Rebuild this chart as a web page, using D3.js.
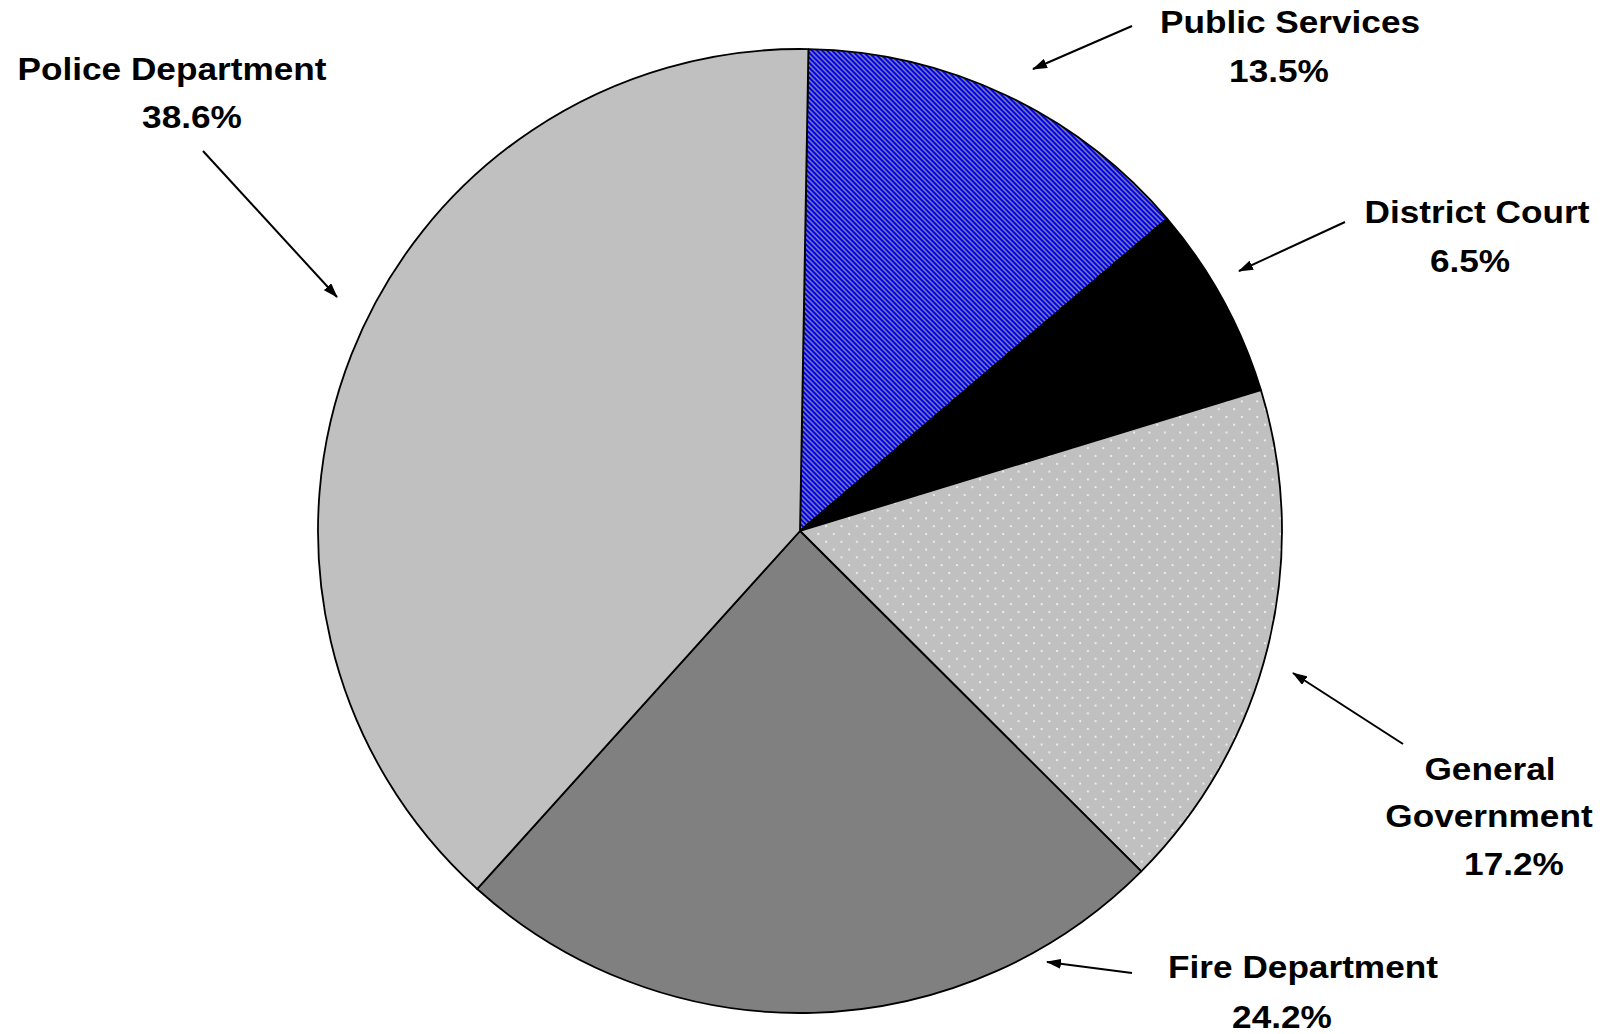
<!DOCTYPE html>
<html>
<head>
<meta charset="utf-8">
<script src="https://cdn.jsdelivr.net/npm/d3@7"></script>
<style>
  html, body { margin: 0; padding: 0; background: #fff; }
  svg { display: block; }
  text { font-family: "Liberation Sans", Arial, sans-serif; font-weight: bold; fill: #000; }
</style>
</head>
<body>
<svg id="chart" width="1610" height="1034"></svg>
<script>
// slices, clockwise from the top
const categories = ["Public Services", "District Court", "General Government", "Fire Department", "Police Department"];
const shares = [13.5, 6.5, 17.2, 24.2, 38.6];
const labelLines = [
    ["Public Services", "13.5%"],
    ["District Court", "6.5%"],
    ["General", "Government", "17.2%"],
    ["Fire Department", "24.2%"],
    ["Police Department", "38.6%"]
];

// where the callouts sit (x centre / baseline of each line, arrow tail and head)
const labelLayout = [
    {lines: [[1290, 33], [1279, 82]], from: [1132, 26], to: [1033, 69]},
    {lines: [[1477, 223], [1470, 272]], from: [1345, 222], to: [1239, 271]},
    {lines: [[1490, 780], [1489, 827], [1514, 875]], from: [1403, 744], to: [1293, 673]},
    {lines: [[1303, 978], [1282, 1028]], from: [1132, 973], to: [1047, 962]},
    {lines: [[172, 80], [192, 128]], from: [203, 151], to: [337, 297]}
];

const cx = 800, cy = 531, r = 482;
const rot = 1 * Math.PI / 180;

let svg = d3.select("#chart");
let defs = svg.append("defs");

// blue with grey diagonal hatching
let hatch = defs.append("pattern")
    .attr("id", "hatch")
    .attr("patternUnits", "userSpaceOnUse")
    .attr("width", 5).attr("height", 5);
hatch.append("rect").attr("width", 5).attr("height", 5).attr("fill", "#0000ff");
hatch.append("path")
    .attr("d", "M-1,-1L6,6M-1,4L1,6M4,-1L6,1")
    .attr("stroke", "#80809a")
    .attr("stroke-width", 1.5);

// silver with white dots
let dots = defs.append("pattern")
    .attr("id", "dots")
    .attr("patternUnits", "userSpaceOnUse")
    .attr("width", 15.4).attr("height", 15.6);
dots.append("rect").attr("width", 15.4).attr("height", 15.6).attr("fill", "#c0c0c0");
dots.selectAll("circle")
    .data([[3, 3], [10.7, 10.8]])
    .enter().append("circle")
    .attr("cx", d => d[0]).attr("cy", d => d[1])
    .attr("r", 1.1)
    .attr("fill", "#f4f4f4");

defs.append("marker")
    .attr("id", "head")
    .attr("markerUnits", "userSpaceOnUse")
    .attr("viewBox", "0 0 15 10")
    .attr("refX", 14).attr("refY", 5)
    .attr("markerWidth", 15).attr("markerHeight", 10)
    .attr("orient", "auto")
    .append("path")
    .attr("d", "M0,0L15,5L0,10Z")
    .attr("fill", "#000");

const fills = ["url(#hatch)", "#000000", "url(#dots)", "#808080", "#c0c0c0"];

let pie = d3.pie().sort(null).value(d => d)
    .startAngle(rot).endAngle(rot + 2 * Math.PI);
let arc = d3.arc().innerRadius(0).outerRadius(r);

let g = svg.append("g").attr("transform", `translate(${cx},${cy})`);
g.selectAll("path")
    .data(pie(shares))
    .enter().append("path")
    .attr("d", arc)
    .attr("fill", (d, i) => fills[i])
    .attr("stroke", "#000")
    .attr("stroke-width", 1.8)
    .attr("stroke-linejoin", "round");

// callouts
let labels = svg.append("g");
labelLayout.forEach((lay, i) => {
    labels.append("line")
        .attr("x1", lay.from[0]).attr("y1", lay.from[1])
        .attr("x2", lay.to[0]).attr("y2", lay.to[1])
        .attr("stroke", "#000")
        .attr("stroke-width", 2)
        .attr("marker-end", "url(#head)");

    labels.selectAll(null)
        .data(labelLines[i])
        .enter().append("text")
        .attr("text-anchor", "middle")
        .attr("font-size", 32)
        .attr("transform", (d, j) => `translate(${lay.lines[j][0]},${lay.lines[j][1]}) scale(1.1,1)`)
        .text(d => d);
});
</script>
</body>
</html>
